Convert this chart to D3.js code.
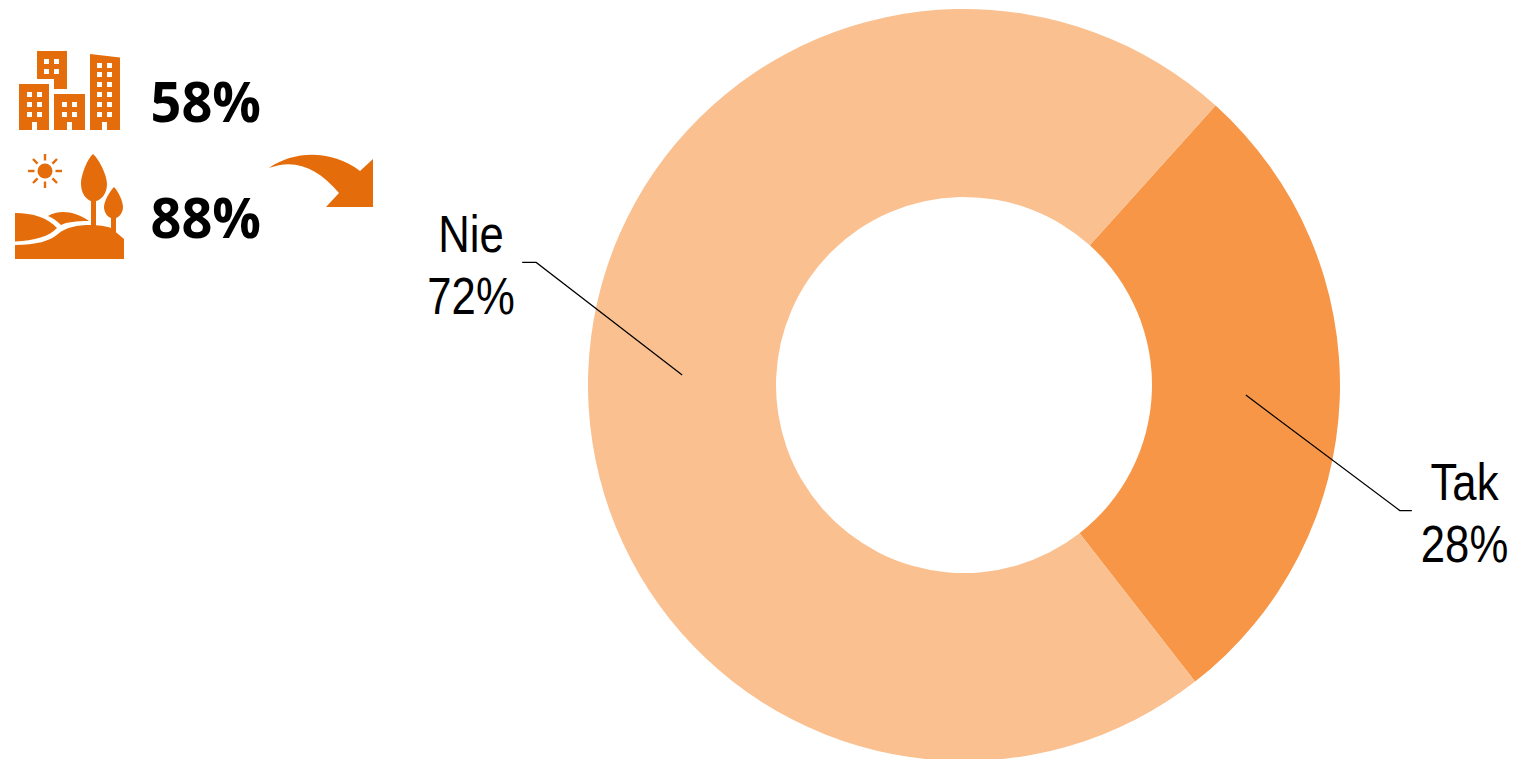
<!DOCTYPE html>
<html>
<head>
<meta charset="utf-8">
<script src="https://cdn.jsdelivr.net/npm/d3@7"></script>
<style>
html,body{margin:0;padding:0;background:#fff;overflow:hidden}
svg{display:block}
</style>
</head>
<body>
<svg id="c" width="1514" height="759"></svg>
<script>
const categories = ["Tak", "Nie"];
const values = [27.8, 72.2];
const sliceColors = ["#F79646", "#FAC090"];
const summaryLabels = ["58%", "88%"];

const svg = d3.select("#c");
const cx = 964, cy = 385, rOuter = 376, rInner = 188;
const iconColor = "#E46C0A";
const toRad = d => d * Math.PI / 180;

const pie = d3.pie().sort(null).value(d => d)
  .startAngle(toRad(42)).endAngle(toRad(402));
const arc = d3.arc().innerRadius(rInner).outerRadius(rOuter);
const arcs = pie(values);

const g = svg.append("g").attr("transform", `translate(${cx},${cy})`);
g.selectAll("path").data(arcs).join("path")
  .attr("d", arc)
  .attr("fill", (d, i) => sliceColors[i]);

// leader offsets from each slice centroid, label anchors from the chart centre
const leaders = [
  {elbow: [154, 115.5], end: [166, 115.5], text: [500.5, 115]},
  {elbow: [-146, -112.5], end: [-160, -112.5], text: [-493, -133]}
];
const line = d3.line();
arcs.forEach((d, i) => {
  const [x, y] = arc.centroid(d);
  const l = leaders[i];
  g.append("path")
    .attr("d", line([[x, y], [x + l.elbow[0], y + l.elbow[1]], [x + l.end[0], y + l.end[1]]]))
    .attr("fill", "none").attr("stroke", "#000").attr("stroke-width", 1.2);
  const t = g.append("g").attr("transform", `translate(${l.text[0]},${l.text[1]}) scale(0.84,1)`)
    .attr("font-family", "'Liberation Sans', Arial, sans-serif")
    .attr("font-size", 52).attr("fill", "#000").attr("text-anchor", "middle");
  t.append("text").attr("y", 0).text(categories[i]);
  t.append("text").attr("y", 62).text(Math.round(d.value) + "%");
});

// summary figures
svg.selectAll("text.sum").data(summaryLabels).join("text")
  .attr("class", "sum")
  .attr("transform", (d, i) => `translate(150.5,${i === 0 ? 122 : 238}) scale(0.965,1)`)
  .attr("font-family", "'Open Sans', 'Noto Sans', sans-serif")
  .attr("font-weight", 700).attr("font-size", 56).attr("fill", "#000")
  .text(d => d);

// buildings icon
const icons = svg.append("g").attr("fill", iconColor);
const rects = (xs, ys, w, h) => xs.flatMap(x => ys.map(y => `M${x} ${y}h${w}v${h}h${-w}z`)).join("");
const bld = [
  {d: "M37 51H67V89H54V79H37Z", win: [[44, 54], [59, 69]]},
  {d: "M19 84H49V130H19Z", win: [[27, 37], [92, 102, 112]], door: 32},
  {d: "M54 94H85V130H54Z", win: [[62, 72], [102, 112]], door: 67},
  {d: "M90 54L120 57.5V130H90Z", win: [[97, 107], [63, 72, 82, 92, 102, 112]], door: 102}
];
bld.forEach(b => {
  const door = b.door ? `M${b.door} 122h5v8h-5z` : "";
  icons.append("path").attr("fill-rule", "evenodd")
    .attr("d", b.d + rects(b.win[0], b.win[1], 5, 5) + door);
});

// landscape icon
icons.append("circle").attr("cx", 45).attr("cy", 171).attr("r", 7.5);
d3.range(8).forEach(i => {
  const a = i * Math.PI / 4;
  icons.append("line")
    .attr("x1", 45 + 10.5 * Math.cos(a)).attr("y1", 171 + 10.5 * Math.sin(a))
    .attr("x2", 45 + 17 * Math.cos(a)).attr("y2", 171 + 17 * Math.sin(a))
    .attr("stroke", iconColor).attr("stroke-width", 2.4);
});
icons.append("path").attr("d", "M93 154C88 158 81 174 81 184C81 194 87 200 91 201V226H96V201C101 200 107 194 107 184C107 174 98 158 93 154Z");
icons.append("path").attr("d", "M114 187C110 191 104 201 104 207C104 213 108 217 111 218V233H116V218C119 217 123 213 123 207C123 201 118 191 114 187Z");
icons.append("path").attr("d", "M15 213C33 213 48 218 57 228C50 236 34 241 15 241.5Z");
icons.append("path").attr("d", "M48 216C58 210 74 210 89 221C76 221 67 222 61 225C57 221 53 218 48 216Z");
icons.append("path").attr("d", "M15 245C36 245 50 241 58 234C66 227 78 225 90 225C98 225 106 226 111 228L124 239V259H15Z");

// arrow
icons.append("path").attr("d", "M269 168C295 150 332 150 360 171L373 159V207H326L339 193C318 168 295 158 269 168Z");
</script>
</body>
</html>
